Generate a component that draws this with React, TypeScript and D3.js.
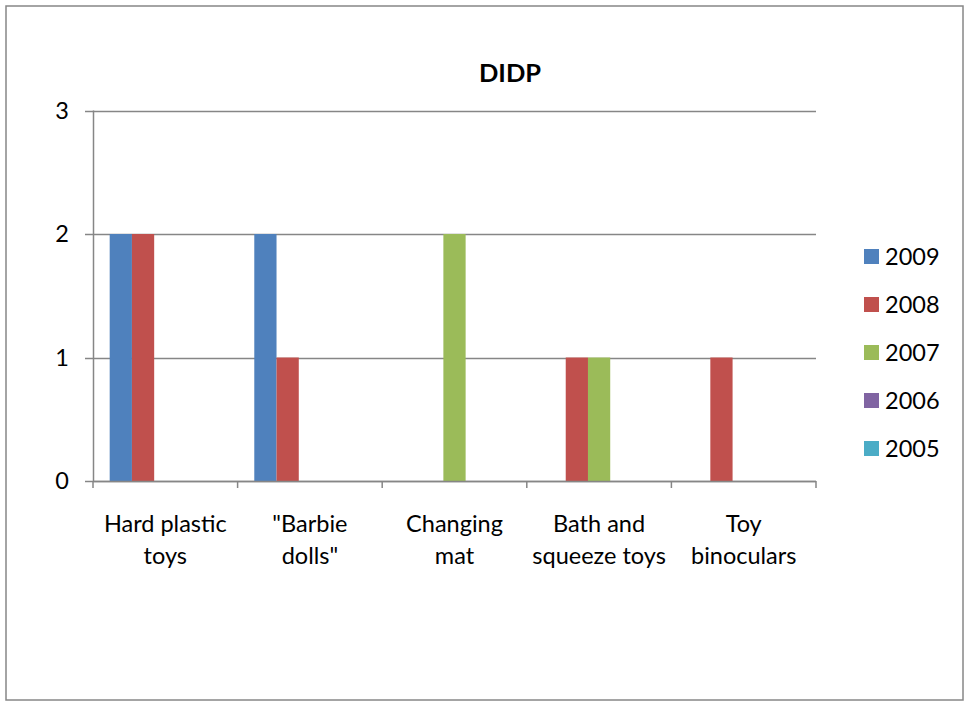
import React from "react";
import * as d3 from "d3";

const categories = [
  ["Hard plastic", "toys"],
  ["\"Barbie", "dolls\""],
  ["Changing", "mat"],
  ["Bath and", "squeeze toys"],
  ["Toy", "binoculars"],
];
const seriesNames = ["2009", "2008", "2007", "2006", "2005"];
const seriesColors = ["#4F81BD", "#C0504D", "#9BBB59", "#8064A2", "#4BACC6"];
const values2009 = [2, 2, 0, 0, 0];
const values2008 = [2, 1, 0, 1, 1];
const values2007 = [0, 0, 2, 1, 0];
const values2006 = [0, 0, 0, 0, 0];
const values2005 = [0, 0, 0, 0, 0];
const yTicks = [0, 1, 2, 3];
const title = "DIDP";

const seriesValues = [values2009, values2008, values2007, values2006, values2005];

export default function App() {
  const W = 965, H = 702;
  const left = 93, right = 816, top = 110.5, bottom = 481;
  const font = "Lato, 'Open Sans', sans-serif";
  const fs = 23.5;
  const x0 = d3.scaleBand<number>().domain(categories.map((_, i) => i)).range([left, right]).paddingInner(0).paddingOuter(0);
  const groupW = x0.bandwidth() / 1.3;
  const x1 = d3.scaleBand<number>().domain(seriesNames.map((_, i) => i)).range([0, groupW]).padding(0);
  const y = d3.scaleLinear().domain([0, 3]).range([bottom, top]);
  const grid = "#868686";
  return (
    <svg width={W} height={H} style={{ position: "absolute", left: 0, top: 0 }} fontFamily={font}>
      <rect x={0} y={0} width={W} height={H} fill="#fff" />
      <rect x={6} y={6} width={957} height={694} fill="none" stroke="#878787" strokeWidth={1.5} />
      <text x={510} y={82} textAnchor="middle" fontWeight="bold" fontSize={25.5} fill="#000">{title}</text>
      {yTicks.map((t) => (
        <g key={t}>
          <line x1={85} x2={right} y1={Math.round(y(t)) + 0.5} y2={Math.round(y(t)) + 0.5} stroke={grid} strokeWidth={1.5} />
          <text x={69} y={y(t) + 8} textAnchor="end" fontSize={fs} fill="#000">{t}</text>
        </g>
      ))}
      {seriesValues.map((vals, s) =>
        vals.map((v, c) =>
          v > 0 ? (
            <rect key={`${s}-${c}`} x={x0(c)! + (x0.bandwidth() - groupW) / 2 + x1(s)!} y={y(v)} width={x1.bandwidth()} height={y(0) - y(v)} fill={seriesColors[s]} />
          ) : null
        )
      )}
      <line x1={left + 0.5} x2={left + 0.5} y1={top} y2={bottom} stroke={grid} strokeWidth={1.5} />
      <line x1={left} x2={right} y1={Math.round(y(0)) + 0.5} y2={Math.round(y(0)) + 0.5} stroke={grid} strokeWidth={1.5} />
      {d3.range(categories.length + 1).map((i) => {
        const xx = left + i * x0.bandwidth();
        return <line key={i} x1={xx} x2={xx} y1={bottom} y2={bottom + 7} stroke={grid} strokeWidth={1.5} />;
      })}
      {categories.map((lines, i) => (
        <text key={i} textAnchor="middle" fontSize={fs} fill="#000">
          {lines.map((l, j) => (
            <tspan key={j} x={x0(i)! + x0.bandwidth() / 2} y={532 + j * 32}>{l}</tspan>
          ))}
        </text>
      ))}
      {seriesNames.map((n, i) => (
        <g key={n}>
          <rect x={864} y={249 + i * 48} width={15} height={15} fill={seriesColors[i]} />
          <text x={885} y={265 + i * 48} fontSize={fs} fill="#000">{n}</text>
        </g>
      ))}
    </svg>
  );
}
